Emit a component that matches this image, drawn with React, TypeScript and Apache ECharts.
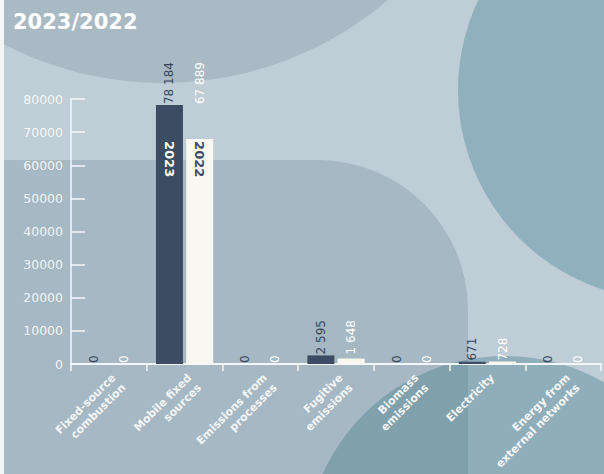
import React, { useEffect, useRef } from "react";
import * as echarts from "echarts";

const categories = [
  "Fixed-source\ncombustion",
  "Mobile fixed\nsources",
  "Emissions from\nprocesses",
  "Fugitive\nemissions",
  "Biomass\nemissions",
  "Electricity",
  "Energy from\nexternal networks",
];
const values2023 = [0, 78184, 0, 2595, 0, 671, 0];
const values2022 = [0, 67889, 0, 1648, 0, 728, 0];
const yTicks = [0, 10000, 20000, 30000, 40000, 50000, 60000, 70000, 80000];
const seriesNames = ["2023", "2022"];
const titleText = "2023/2022";
const namedCategory = 1; // the bar pair that carries the year inside

const fmt = (v: number) => String(v).replace(/\B(?=(\d{3})+(?!\d))/g, " ");

export default function App() {
  const ref = useRef<HTMLDivElement>(null);
  useEffect(() => {
    if (!ref.current) return;
    const chart = echarts.init(ref.current, null, { renderer: "svg" });
    const pairMax = values2023.map((v, i) => Math.max(v, values2022[i]));
    const dark = "#3c4d63";
    const cream = "#f8f8f1";
    const barW = 27;
    const gap = "12%";

    const mainData = (vals: number[], isFirst: boolean) =>
      vals.map((v, i) =>
        i === namedCategory
          ? {
              value: v,
              label: {
                show: true,
                formatter: isFirst ? seriesNames[0] : seriesNames[1],
                position: ["50%", isFirst ? 36 : 2],
                rotate: -90,
                align: "left",
                verticalAlign: "middle",
                fontFamily: "DejaVu Sans",
                fontWeight: "bold",
                fontSize: 13,
                color: isFirst ? "#ffffff" : "#3c4d63",
              },
            }
          : v
      );

    const overlay = (vals: number[], color: string) => ({
      type: "bar",
      xAxisIndex: 1,
      yAxisIndex: 0,
      barWidth: barW,
      barGap: gap,
      silent: true,
      data: pairMax,
      itemStyle: { color: "rgba(0,0,0,0)" },
      label: {
        show: true,
        position: "top",
        distance: 1,
        rotate: 90,
        align: "left",
        verticalAlign: "middle",
        fontFamily: "DejaVu Sans",
        fontSize: 12,
        color,
        formatter: (p: any) => fmt(vals[p.dataIndex]),
      },
      z: 5,
    });

    chart.setOption({
      animation: false,
      backgroundColor: "#bfcdd6",
      title: {
        text: titleText,
        left: 8,
        top: 6,
        textStyle: {
          fontFamily: "DejaVu Sans",
          fontWeight: "bold",
          fontSize: 21,
          color: "#ffffff",
        },
      },
      graphic: [
        {
          type: "circle",
          z: -10,
          silent: true,
          shape: { cx: 163, cy: -263, r: 346 },
          style: { fill: "#a9bac5" },
        },
        {
          type: "rect",
          z: -10,
          silent: true,
          shape: { x: 0, y: 160, width: 468, height: 330, r: [0, 150, 0, 0] },
          style: { fill: "#a6b8c3" },
        },
        {
          type: "circle",
          z: -10,
          silent: true,
          shape: { cx: 668, cy: 90, r: 210 },
          style: { fill: "#90b0bd" },
        },
        {
          type: "circle",
          z: -9,
          silent: true,
          shape: { cx: 505, cy: 556, r: 200 },
          style: { fill: "rgba(60,118,132,0.36)" },
        },
        {
          type: "rect",
          z: -8,
          silent: true,
          shape: { x: 0, y: 0, width: 4, height: 474 },
          style: { fill: "#f3f5f6" },
        },
      ],
      grid: {
        left: 71,
        right: 3,
        top: 99,
        bottom: 110,
        containLabel: false,
        outerBoundsMode: "none",
      },
      xAxis: [
        {
          type: "category",
          data: categories,
          axisLine: { lineStyle: { color: "#f4f7f8", width: 2 } },
          axisTick: { show: true, length: 7, lineStyle: { color: "#f4f7f8", width: 1.5 } },
          axisLabel: {
            rotate: 45,
            interval: 0,
            margin: 7,
            verticalAlign: "top",
            fontFamily: "DejaVu Sans",
            fontWeight: "bold",
            fontSize: 11,
            lineHeight: 14,
            color: "#f4f7f8",
          },
        },
        {
          type: "category",
          data: categories,
          show: false,
        },
      ],
      yAxis: {
        type: "value",
        min: yTicks[0],
        max: yTicks[yTicks.length - 1],
        interval: yTicks[1] - yTicks[0],
        splitLine: { show: false },
        axisLine: { show: true, lineStyle: { color: "#f4f7f8", width: 1.5 } },
        axisTick: { show: true, inside: true, length: 14, lineStyle: { color: "#f4f7f8", width: 1.5 } },
        axisLabel: {
          margin: 8,
          padding: [10, 0, 0, 0],
          fontFamily: "DejaVu Sans",
          fontSize: 12.5,
          color: "rgba(255,255,255,0.88)",
          formatter: (v: number) => String(v),
        },
      },
      series: [
        {
          name: seriesNames[0],
          type: "bar",
          xAxisIndex: 0,
          barWidth: barW,
          barGap: gap,
          data: mainData(values2023, true),
          itemStyle: { color: dark },
          label: { show: false },
        },
        {
          name: seriesNames[1],
          type: "bar",
          xAxisIndex: 0,
          barWidth: barW,
          barGap: gap,
          data: mainData(values2022, false),
          itemStyle: { color: cream },
          label: { show: false },
        },
        overlay(values2023, "#34445a"),
        overlay(values2022, "#ffffff"),
      ],
    });
    return () => chart.dispose();
  }, []);
  return (
    <div
      ref={ref}
      style={{ position: "absolute", left: 0, top: 0, width: 604, height: 474 }}
    />
  );
}
